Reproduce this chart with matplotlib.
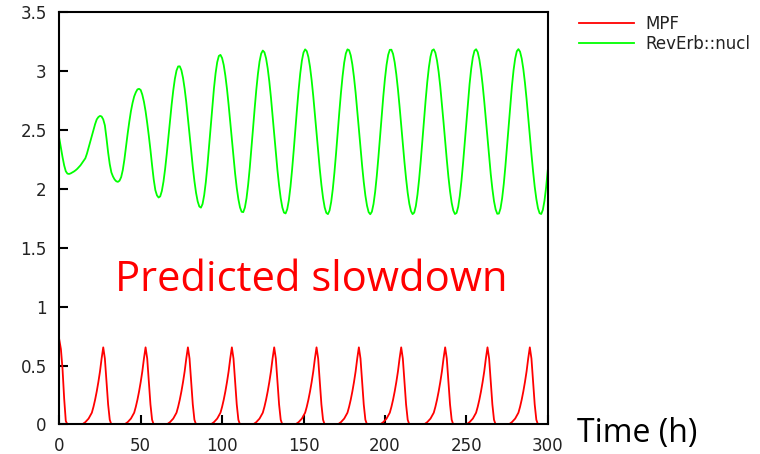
import numpy as np
import matplotlib.pyplot as plt

# hourly samples, t = 0..300 h
time_h = np.arange(0, 301)

mpf = [
    0.72, 0.64, 0.47, 0.22, 0.03, 0, 0, 0, 0, 0, 0, 0, 0, 0, 0,
    0.01, 0.02, 0.035, 0.05, 0.075, 0.10, 0.15, 0.21, 0.28, 0.36, 0.45, 0.56, 0.655, 0.56, 0.37, 0.17, 0.04,
    0, 0, 0, 0, 0, 0, 0, 0, 0,
    0.01, 0.02, 0.035, 0.05, 0.075, 0.10, 0.15, 0.21, 0.28, 0.36, 0.45, 0.56, 0.655, 0.56, 0.37, 0.17, 0.04,
    0, 0, 0, 0, 0, 0, 0, 0, 0,
    0.01, 0.02, 0.035, 0.05, 0.075, 0.10, 0.15, 0.21, 0.28, 0.36, 0.45, 0.56, 0.655, 0.56, 0.37, 0.17, 0.04,
    0, 0, 0, 0, 0, 0, 0, 0, 0, 0,
    0.01, 0.02, 0.035, 0.05, 0.075, 0.10, 0.15, 0.21, 0.28, 0.36, 0.45, 0.56, 0.655, 0.56, 0.37, 0.17, 0.04,
    0, 0, 0, 0, 0, 0, 0, 0, 0,
    0.01, 0.02, 0.035, 0.05, 0.075, 0.10, 0.15, 0.21, 0.28, 0.36, 0.45, 0.56, 0.655, 0.56, 0.37, 0.17, 0.04,
    0, 0, 0, 0, 0, 0, 0, 0, 0,
    0.01, 0.02, 0.035, 0.05, 0.075, 0.10, 0.15, 0.21, 0.28, 0.36, 0.45, 0.56, 0.655, 0.56, 0.37, 0.17, 0.04,
    0, 0, 0, 0, 0, 0, 0, 0, 0,
    0.01, 0.02, 0.035, 0.05, 0.075, 0.10, 0.15, 0.21, 0.28, 0.36, 0.45, 0.56, 0.655, 0.56, 0.37, 0.17, 0.04,
    0, 0, 0, 0, 0, 0, 0, 0, 0,
    0.01, 0.02, 0.035, 0.05, 0.075, 0.10, 0.15, 0.21, 0.28, 0.36, 0.45, 0.56, 0.655, 0.56, 0.37, 0.17, 0.04,
    0, 0, 0, 0, 0, 0, 0, 0, 0, 0,
    0.01, 0.02, 0.035, 0.05, 0.075, 0.10, 0.15, 0.21, 0.28, 0.36, 0.45, 0.56, 0.655, 0.56, 0.37, 0.17, 0.04,
    0, 0, 0, 0, 0, 0, 0, 0, 0,
    0.01, 0.02, 0.035, 0.05, 0.075, 0.10, 0.15, 0.21, 0.28, 0.36, 0.45, 0.56, 0.655, 0.56, 0.37, 0.17, 0.04,
    0, 0, 0, 0, 0, 0, 0, 0, 0,
    0.01, 0.02, 0.035, 0.05, 0.075, 0.10, 0.15, 0.21, 0.28, 0.36, 0.45, 0.56, 0.655, 0.56, 0.37, 0.17, 0.04,
    0, 0, 0, 0, 0, 0, 0,
]

reverb_nucl = [
    2.43, 2.35, 2.27, 2.20, 2.15, 2.13, 2.127, 2.132, 2.14, 2.148,
    2.158, 2.17, 2.185, 2.20, 2.22, 2.24, 2.26, 2.30, 2.35, 2.40,
    2.45, 2.50, 2.55, 2.59, 2.61, 2.62, 2.615, 2.59, 2.54, 2.43,
    2.31, 2.21, 2.14, 2.105, 2.08, 2.065, 2.06, 2.07, 2.10, 2.16,
    2.25, 2.36, 2.47, 2.57, 2.66, 2.73, 2.785, 2.82, 2.845, 2.85,
    2.84, 2.80, 2.74, 2.66, 2.56, 2.45, 2.33, 2.20, 2.08, 1.99,
    1.945, 1.927, 1.937, 1.983, 2.062, 2.169, 2.296, 2.436, 2.578, 2.715,
    2.836, 2.935, 3.005, 3.04, 3.041, 3.008, 2.943, 2.85, 2.736, 2.604,
    2.464, 2.322, 2.187, 2.067, 1.967, 1.894, 1.851, 1.841, 1.872, 1.947,
    2.058, 2.20, 2.363, 2.533, 2.70, 2.854, 2.982, 3.076, 3.129, 3.138,
    3.111, 3.052, 2.962, 2.849, 2.715, 2.568, 2.417, 2.269, 2.130, 2.009,
    1.913, 1.843, 1.806, 1.803, 1.842, 1.921, 2.037, 2.18, 2.342, 2.513,
    2.683, 2.841, 2.976, 3.082, 3.149, 3.175, 3.16, 3.109, 3.025, 2.913,
    2.777, 2.625, 2.467, 2.309, 2.159, 2.029, 1.921, 1.843, 1.799, 1.792,
    1.828, 1.904, 2.02, 2.165, 2.329, 2.505, 2.679, 2.841, 2.981, 3.089,
    3.158, 3.185, 3.17, 3.12, 3.036, 2.923, 2.787, 2.635, 2.477, 2.317,
    2.167, 2.034, 1.924, 1.843, 1.797, 1.786, 1.817, 1.89, 2.00, 2.141,
    2.303, 2.478, 2.653, 2.816, 2.958, 3.073, 3.15, 3.185, 3.178, 3.134,
    3.057, 2.949, 2.818, 2.669, 2.51, 2.35, 2.197, 2.059, 1.944, 1.858,
    1.803, 1.785, 1.807, 1.872, 1.975, 2.11, 2.269, 2.442, 2.617, 2.785,
    2.933, 3.053, 3.138, 3.181, 3.182, 3.146, 3.075, 2.973, 2.846, 2.70,
    2.542, 2.382, 2.228, 2.087, 1.966, 1.873, 1.812, 1.786, 1.799, 1.855,
    1.952, 2.081, 2.236, 2.407, 2.583, 2.752, 2.906, 3.032, 3.124, 3.176,
    3.185, 3.156, 3.09, 2.993, 2.869, 2.723, 2.567, 2.405, 2.249, 2.103,
    1.98, 1.882, 1.817, 1.787, 1.796, 1.848, 1.941, 2.067, 2.219, 2.389,
    2.565, 2.736, 2.891, 3.021, 3.117, 3.173, 3.186, 3.161, 3.099, 3.006,
    2.886, 2.745, 2.588, 2.43, 2.274, 2.126, 2.00, 1.896, 1.826, 1.789,
    1.791, 1.835, 1.921, 2.042, 2.193, 2.363, 2.539, 2.713, 2.871, 3.007,
    3.107, 3.169, 3.187, 3.165, 3.108, 3.019, 2.902, 2.764, 2.613, 2.454,
    2.296, 2.15, 2.019, 1.915, 1.837, 1.794, 1.787, 1.822, 1.899, 2.013,
    2.157,
]

x_ticks = [0, 50, 100, 150, 200, 250, 300]
y_ticks = [0, 0.5, 1, 1.5, 2, 2.5, 3, 3.5]
y_tick_labels = ['0', '0.5', '1', '1.5', '2', '2.5', '3', '3.5']

fig = plt.figure(figsize=(7.6, 4.54), dpi=100)
ax = fig.add_axes([0.078, 0.065, 0.6427, 0.908])

ax.plot(time_h, mpf, color='#ff0000', lw=1.3, label='MPF', zorder=2)
ax.plot(time_h, reverb_nucl, color='#00ff00', lw=1.3, label='RevErb::nucl', zorder=2)

ax.set_xlim(0, 300)
ax.set_ylim(0, 3.5)
ax.set_xticks(x_ticks)
ax.set_yticks(y_ticks)
ax.set_yticklabels(y_tick_labels)
ax.tick_params(direction='in', length=6.5, width=1.5, colors='black',
               labelcolor='#222222', labelsize=12, pad=9,
               top=False, right=False)
for sp in ax.spines.values():
    sp.set_linewidth(1.5)
    sp.set_zorder(3)

ax.legend(loc='upper left', bbox_to_anchor=(0.762, 0.968),
          bbox_transform=fig.transFigure, frameon=False, fontsize=12,
          handlelength=3.3, handletextpad=0.7, labelspacing=0.15,
          borderpad=0, borderaxespad=0, labelcolor='#222222')

ax.text(34.2, 1.135, 'Predicted slowdown', color='#ff0000', fontsize=30,
        family='Open Sans', ha='left', va='baseline')
fig.text(0.7588, 0.0271, 'Time (h)', color='black', fontsize=23,
         family='Open Sans', ha='left', va='baseline')

fig.savefig('out.png', dpi=100)
